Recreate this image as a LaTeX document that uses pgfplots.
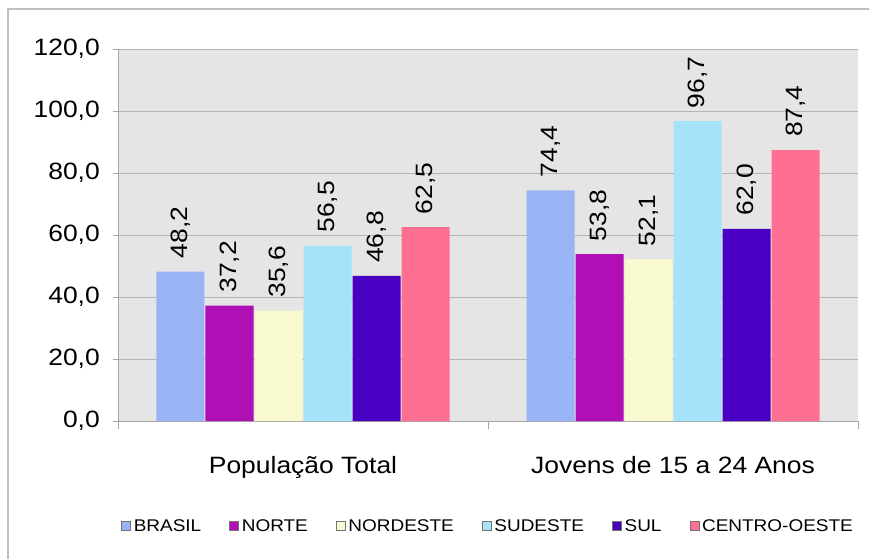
\documentclass[border=0pt]{standalone}
\usepackage{pgfplots}
\pgfplotsset{compat=1.18}
\usepackage{fontspec}
\setmainfont{Liberation Sans}[FakeStretch=1.12]
\definecolor{cBrasil}{HTML}{99B4F5}
\definecolor{cNorte}{HTML}{B00FB5}
\definecolor{cNordeste}{HTML}{FAFAD0}
\definecolor{cSudeste}{HTML}{A5E3FA}
\definecolor{cSul}{HTML}{4A00C2}
\definecolor{cCentro}{HTML}{FF6F91}
\definecolor{bgGray}{HTML}{E5E5E5}
\definecolor{gridGray}{HTML}{B4B4B4}
\newcommand{\mainfont}{\fontsize{23.7}{28}\selectfont}
\newcommand{\legfont}{\fontsize{17}{20}\selectfont}
\begin{document}
\begin{tikzpicture}
\useasboundingbox[fill=white] (-118bp,-138bp) rectangle (751bp,421bp);
\draw[line width=1.5bp, color=black!25] (-110bp,-138bp) -- (-110bp,412bp) -- (751bp,412bp);
\begin{axis}[
  at={(0,0)}, anchor=south west,
  scale only axis, width=740bp, height=372bp,
  xmin=-0.5, xmax=1.5, ymin=0, ymax=120,
  ybar=1bp, bar width=48bp,
  axis background/.style={fill=bgGray},
  axis x line*=bottom, axis y line*=left,
  axis line style={draw=black!35, line width=0.8bp},
  xtick={0,1}, xticklabels={População Total, Jovens de 15 a 24 Anos},
  major x tick style={draw=none},
  minor xtick={-0.5,0.5,1.5}, minor tick length=8bp,
  minor x tick style={draw=black!35, line width=0.8bp},
  ytick={0,20,...,120}, major tick length=5bp,
  major y tick style={draw=black!35, line width=0.8bp},
  tick align=outside,
  ymajorgrids, grid style={draw=gridGray, line width=0.8bp},
  /pgf/number format/assume math mode=true,
  yticklabel style={/pgf/number format/.cd, fixed, fixed zerofill, precision=1, use comma, /tikz/.cd, font=\mainfont, inner sep=0pt, xshift=-13bp},
  xticklabel style={font=\mainfont, inner sep=0pt, yshift=-30bp},
  nodes near coords,
  nodes near coords style={/pgf/number format/.cd, fixed, fixed zerofill, precision=1, use comma, /tikz/.cd, rotate=90, anchor=west, font=\mainfont, inner xsep=13bp, inner ysep=0pt},
  legend columns=6,
  legend style={at={(0.5,-0.2823)}, anchor=center, draw=none, fill=none, font=\legfont,
    /tikz/every even column/.append style={column sep=26bp},
    /tikz/every odd column/.append style={column sep=1bp}},
  legend image code/.code={\draw[#1, draw=black!55, line width=0.6bp] (0bp,-4.5bp) rectangle (9bp,4.5bp);},
]
\addplot[fill=cBrasil, draw=none] coordinates {(0,48.2) (1,74.4)};
\addplot[fill=cNorte, draw=none] coordinates {(0,37.2) (1,53.8)};
\addplot[fill=cNordeste, draw=none] coordinates {(0,35.6) (1,52.1)};
\addplot[fill=cSudeste, draw=none] coordinates {(0,56.5) (1,96.7)};
\addplot[fill=cSul, draw=none] coordinates {(0,46.8) (1,62.0)};
\addplot[fill=cCentro, draw=none] coordinates {(0,62.5) (1,87.4)};
\legend{BRASIL, NORTE, NORDESTE, SUDESTE, SUL, CENTRO-OESTE}
\end{axis}
\end{tikzpicture}
\end{document}
